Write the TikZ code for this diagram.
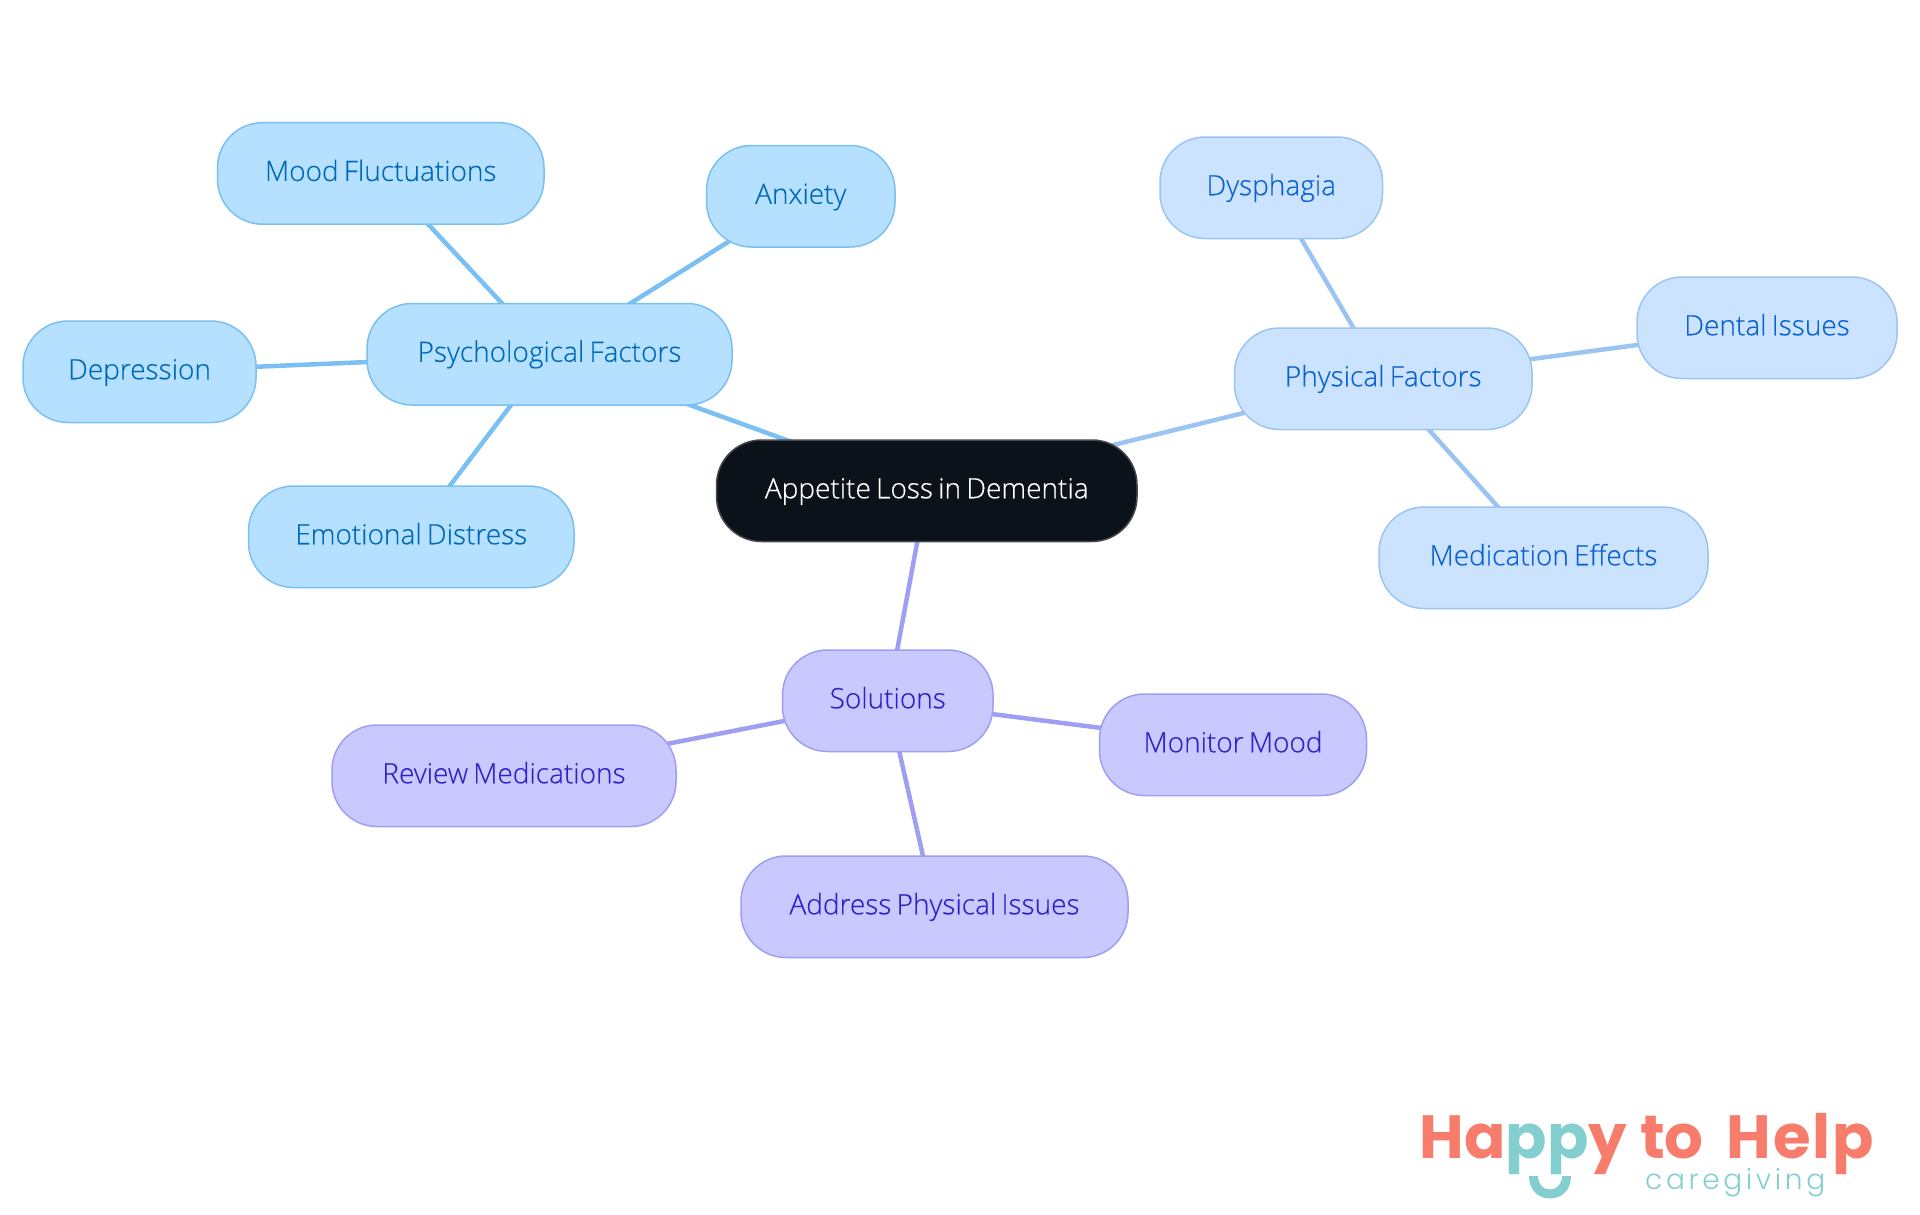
\documentclass[tikz,border=0pt]{standalone}
\usepackage{fontspec}
\setmainfont{Open Sans}[UprightFont=* Light,RawFeature={embolden=0.35},WordSpace=0.72]
\newfontfamily\logofont{Poppins}[UprightFont=* Bold]
\newfontfamily\subfont{Poppins}[UprightFont=* Light,LetterSpace=13]
\usetikzlibrary{backgrounds}
\definecolor{blueline}{HTML}{7BC0F2}
\definecolor{bluefill}{HTML}{B5E0FF}
\definecolor{bluetext}{HTML}{0069B8}
\definecolor{paleline}{HTML}{9BC4F2}
\definecolor{palefill}{HTML}{CCE3FF}
\definecolor{paletext}{HTML}{0B62D0}
\definecolor{violetline}{HTML}{9E9EF2}
\definecolor{violetfill}{HTML}{C9C9FF}
\definecolor{violettext}{HTML}{2F22C8}
\definecolor{rootfill}{HTML}{0B121A}
\definecolor{rootline}{HTML}{45494E}
\definecolor{salmon}{HTML}{F87C6C}
\definecolor{tealc}{HTML}{83CFCF}
\tikzset{
  x=1pt,y=-1pt,
  pill/.style={rectangle,rounded corners=45pt,line width=1.5pt,inner sep=0pt,
    text height=20pt,text depth=5pt,
    font=\fontsize{28}{32}\selectfont},
  bluepill/.style={pill,draw=blueline,fill=bluefill,text=bluetext},
  palepill/.style={pill,draw=paleline,fill=palefill,text=paletext},
  violetpill/.style={pill,draw=violetline,fill=violetfill,text=violettext},
  rootpill/.style={pill,draw=rootline,fill=rootfill,text=white},
  blueedge/.style={draw=blueline,line width=4.5pt},
  paleedge/.style={draw=paleline,line width=4.5pt},
  violetedge/.style={draw=violetline,line width=4.5pt},
}
\newcommand{\pillnode}[7]{% style,name,x1,y1,x2,y2,text
  \node[#1,minimum width=#5pt-#3pt,minimum height=#6pt-#4pt] (#2) at ({(#3+#5)/2},{(#4+#6)/2}) {#7};}
\begin{document}
\begin{tikzpicture}
\useasboundingbox (0,0) rectangle (1920,1215);
\pillnode{rootpill}{root}{716.5}{440}{1137}{541.5}{Appetite Loss in Dementia}
\pillnode{bluepill}{psy}{367}{303.5}{732}{405}{Psychological Factors}
\pillnode{bluepill}{mood}{217.5}{122.7}{544}{224.2}{Mood Fluctuations}
\pillnode{bluepill}{anx}{706.5}{145.5}{895}{247}{Anxiety}
\pillnode{bluepill}{dep}{23}{321}{256}{422.5}{Depression}
\pillnode{bluepill}{emo}{248.5}{486}{574}{587.5}{Emotional Distress}
\pillnode{palepill}{phy}{1234.5}{328}{1532}{429.5}{Physical Factors}
\pillnode{palepill}{dys}{1160}{137}{1382.5}{238.5}{Dysphagia}
\pillnode{palepill}{den}{1637}{277}{1897}{378.5}{Dental Issues}
\pillnode{palepill}{med}{1379}{507}{1708}{608.5}{Medication Effects}
\pillnode{violetpill}{sol}{782.5}{650}{993}{751.5}{Solutions}
\pillnode{violetpill}{mon}{1099.5}{694}{1366.5}{795.5}{Monitor Mood}
\pillnode{violetpill}{rev}{332}{725}{676}{826.5}{Review Medications}
\pillnode{violetpill}{addr}{741}{856}{1128}{957.5}{Address Physical Issues}
\begin{scope}[on background layer]
\draw[blueedge] (root.center) -- (psy.center);
\draw[blueedge] (psy.center) -- (mood.center);
\draw[blueedge] (psy.center) -- (anx.center);
\draw[blueedge] (psy.center) -- (dep.center);
\draw[blueedge] (psy.center) -- (emo.center);
\draw[paleedge] (root.center) -- (phy.center);
\draw[paleedge] (phy.center) -- (dys.center);
\draw[paleedge] (phy.center) -- (den.center);
\draw[paleedge] (phy.center) -- (med.center);
\draw[violetedge] (root.center) -- (sol.center);
\draw[violetedge] (sol.center) -- (mon.center);
\draw[violetedge] (sol.center) -- (rev.center);
\draw[violetedge] (sol.center) -- (addr.center);
\end{scope}
% logo
\node[anchor=base west,inner sep=0pt,font=\logofont\fontsize{61}{70}\selectfont] (logo) at (1419.5,1158)
  {\textcolor{salmon}{Ha}\textcolor{tealc}{pp}\textcolor{salmon}{y to\kern 10pt{} H\kern2pt e\kern2pt l\kern2pt p}};
\node[anchor=base west,inner sep=0pt,text=tealc,font=\subfont\fontsize{28}{34}\selectfont] (care) at (1645,1189) {caregiving};
% smile
\fill[tealc] (1529,1176) .. controls (1529,1190) and (1538,1198.5) .. (1550,1198.5)
  .. controls (1562,1198.5) and (1571,1190) .. (1571,1176)
  -- (1562,1176) .. controls (1562,1184) and (1557,1189.5) .. (1550,1189.5)
  .. controls (1543,1189.5) and (1538,1184) .. (1538,1176) -- cycle;
\end{tikzpicture}
\end{document}
